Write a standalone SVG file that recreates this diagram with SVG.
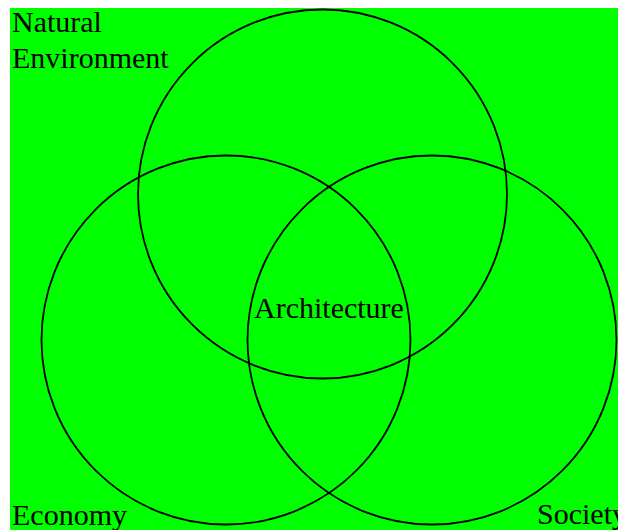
<svg xmlns="http://www.w3.org/2000/svg" width="618" height="530" viewBox="0 0 618 530">
<style>
.c{fill:none;stroke:#000;stroke-width:1.8}
text{font-family:"Liberation Serif","Times New Roman",serif;font-size:30px;fill:#000}
</style>
<rect x="0" y="0" width="618" height="530" fill="#fff"/>
<rect x="10" y="8" width="608" height="522" fill="#00ff00"/>
<g id="connectors"></g>
<g id="natural"><circle class="c" cx="322.5" cy="194" r="184.5"/><text x="12" y="32">Natural</text><text x="12" y="68">Environment</text></g>
<g id="economy"><circle class="c" cx="226" cy="340" r="184.5"/><text x="12" y="525">Economy</text></g>
<g id="society"><circle class="c" cx="432" cy="340" r="184.5"/><text x="537" y="524">Society</text></g>
<g id="architecture"><text x="254" y="318">Architecture</text></g>
</svg>
